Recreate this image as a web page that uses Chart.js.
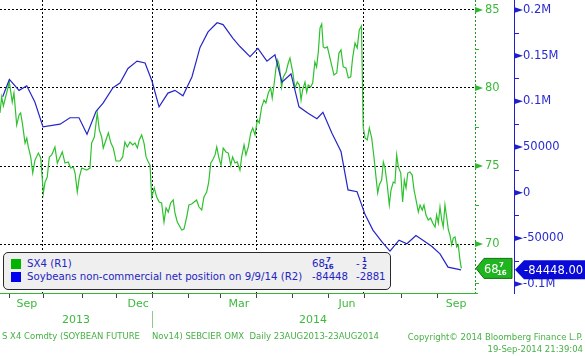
<!DOCTYPE html>
<html>
<head>
<meta charset="utf-8">
<script src="https://cdn.jsdelivr.net/npm/chart.js@4.4.1/dist/chart.umd.min.js"></script>
<style>
  html,body{margin:0;padding:0;background:#fff;overflow:hidden;}
  #wrap{position:relative;width:585px;height:356px;font-family:"DejaVu Sans",Verdana,sans-serif;}
  #c{position:absolute;left:0;top:0;}
  .t{position:absolute;white-space:pre;line-height:12px;}
  #legend{position:absolute;left:3px;top:252px;width:388px;height:38px;box-sizing:border-box;border:1px solid #2a2a2a;border-radius:5px;background:#efefef;}
  .lg{font-size:10.2px;color:#2424c4;}
  .sq{position:absolute;width:10px;height:10px;}
  .fr{font-size:7px;font-weight:bold;line-height:7px;}
  .ft{font-size:8.5px;color:#46b046;line-height:10px;}
  .yr{font-size:11px;color:#3cba3c;}
</style>
</head>
<body>
<div id="wrap">
  <canvas id="c" width="585" height="356"></canvas>
  <div id="legend"></div>
  <div class="sq" style="left:11px;top:259px;background:#00b400;"></div>
  <div class="sq" style="left:11px;top:272px;background:#0000f0;"></div>
  <div class="t lg" style="left:27px;top:258px;">SX4 (R1)</div>
  <div class="t lg" style="left:27px;top:271px;">Soybeans non-commercial net position on 9/9/14 (R2)</div>
  <div class="t lg" style="left:312px;top:258px;">68</div>
  <div class="t lg fr" style="left:326px;top:257px;">7</div>
  <div class="t lg fr" style="left:324px;top:264px;">16</div>
  <div class="t lg" style="left:356px;top:258px;">-</div>
  <div class="t lg fr" style="left:362px;top:257px;">1</div>
  <div class="t lg fr" style="left:362px;top:264px;">2</div>
  <div class="t lg" style="left:312px;top:271px;">-84448</div>
  <div class="t lg" style="left:356px;top:271px;">-2881</div>

  <div class="t yr" style="left:62px;top:314px;">2013</div>
  <div class="t yr" style="left:299px;top:314px;">2014</div>
  <div style="position:absolute;left:152px;top:311px;width:1px;height:17px;background:#8fc88f;"></div>

  <div class="t ft" style="left:2px;top:331px;">S X4 Comdty (SOYBEAN FUTURE</div>
  <div class="t ft" style="left:152px;top:331px;">Nov14) SEBCIER OMX  Daily 23AUG2013-23AUG2014</div>
  <div class="t ft" style="right:2px;top:332px;text-align:right;">Copyright© 2014 Bloomberg Finance L.P.</div>
  <div class="t ft" style="right:2px;top:343.5px;text-align:right;">19-Sep-2014 21:39:04</div>
</div>
<script>
// ---- data (x = trading-day index from 23 Aug 2013) ----
const sxDays = [0.8,1.8,2.8,6.3,8.0,9.0,10.6,12.0,12.9,13.9,15.5,16.5,17.4,18.8,20.0,21.3,23.3,24.7,26.2,27.2,28.5,29.7,31.1,33.0,34.4,36.0,37.3,38.9,40.8,42.2,43.8,44.8,46.1,47.3,48.7,51.6,53.5,54.5,56.1,57.8,59.0,60.4,61.3,62.9,64.3,65.8,67.2,68.8,71.1,72.7,74.0,75.4,77.0,78.6,79.9,81.3,82.4,83.8,85.2,86.4,87.7,88.7,89.7,91.2,92.6,94.1,95.5,96.9,98.1,99.4,100.8,102.3,103.3,104.7,106.3,107.3,108.6,110.2,111.5,113.1,114.5,116.0,117.4,119.0,120.3,121.9,123.1,124.3,125.4,126.8,127.8,129.1,130.3,131.6,133.2,134.6,136.0,137.1,138.5,139.8,141.4,142.4,143.8,144.9,146.3,147.7,148.9,150.2,151.6,152.7,154.1,155.5,156.6,158.0,159.4,160.3,161.5,162.5,163.5,164.4,165.8,166.8,168.4,169.7,170.7,172.3,173.6,175.0,176.2,177.2,178.1,179.5,180.5,181.4,182.8,184.0,185.3,186.3,187.3,188.3,189.3,190.2,191.2,192.6,193.7,195.1,196.5,198.1,199.4,200.6,201.9,203.5,204.9,206.3,207.4,208.8,210.1,211.3,212.6,213.6,214.7,216.0,217.2,218.6,219.9,221.1,222.1,223.0,224.4,225.4,226.4,227.7,228.9,229.9,231.2,232.2,233.2,234.2,235.6,236.7,237.7,238.7,239.7,241.0,242.3,243.4,244.9,245.9,246.9,248.2,249.2,250.4,251.7,253.1,254.3,255.7,256.6,257.6,258.6,259.6,260.5,261.5,262.5,263.5,264.4,265.4,266.4,267.4,268.4,269.3,270.3,271.1];
const sxClose = [78.40,79.42,78.85,80.38,79.10,79.68,77.63,78.27,78.40,77.76,76.47,76.79,76.22,75.58,74.55,75.38,75.83,75.51,73.27,73.97,74.29,75.58,75.71,76.22,75.19,75.58,75.90,75.19,75.26,74.87,74.94,74.55,73.33,74.29,74.87,74.74,74.87,76.47,76.86,78.40,77.31,76.86,76.15,76.67,77.12,76.47,76.15,75.32,75.32,75.58,76.54,76.22,76.54,76.35,76.47,76.15,76.67,76.99,76.47,75.58,75.26,75.06,73.01,73.59,73.01,72.69,72.63,71.41,72.31,72.05,72.63,72.82,71.99,71.41,71.09,70.90,70.96,71.73,72.50,72.56,72.69,72.82,72.37,72.18,73.01,73.33,73.97,75.19,75.38,75.71,76.22,75.51,75.06,76.15,75.90,75.83,75.06,75.58,75.19,75.26,74.74,75.58,76.35,75.71,76.22,77.12,77.44,76.99,77.95,77.76,78.78,79.23,79.04,79.68,80.00,79.36,80.32,81.28,81.79,81.47,80.06,80.71,81.03,81.60,81.92,81.03,80.00,80.38,80.19,79.23,79.87,80.38,79.74,80.19,80.06,80.32,81.67,81.35,82.31,83.85,84.10,82.63,82.56,82.63,82.12,81.47,80.83,80.96,82.24,82.44,81.35,81.28,80.64,80.71,81.92,82.88,82.56,83.72,83.97,77.50,76.79,76.67,77.44,76.79,75.58,74.29,73.27,73.78,74.10,75.26,74.87,73.78,72.50,73.46,73.97,73.91,75.71,74.94,74.55,72.69,74.10,73.59,74.55,74.62,74.42,73.46,72.63,72.05,72.50,72.18,72.50,71.86,71.54,71.67,71.35,71.09,71.86,71.35,72.37,71.54,71.09,72.50,71.73,70.90,70.58,69.94,70.38,70.45,69.81,69.94,68.97,68.4375];
const cotDays = [2.4,6.3,12.0,16.5,21.3,26.0,36.0,41.8,47.1,51.8,57.1,61.2,67.0,71.1,75.8,81.1,85.8,89.9,94.0,99.2,103.3,108.0,113.3,118.0,122.7,128.0,131.5,137.3,141.4,147.3,151.9,157.2,161.9,166.0,171.3,176.0,181.3,186.5,190.0,195.3,200.6,204.7,210.0,214.7,219.3,224.6,229.3,234.6,239.2,244.5,248.6,253.9,258.6,263.3,270.9];
const cotNet = [105000,124000,112000,117000,99000,72000,75000,82000,82000,64000,89000,98000,115000,120000,136000,144000,142000,122000,94000,109000,112000,106000,127000,159000,176000,186000,184000,169000,160000,149000,158000,144000,151000,121000,130000,94000,87000,81000,88000,65000,45000,3000,1000,-24000,-41000,-54000,-64000,-52000,-56000,-47000,-52000,-59000,-67000,-81567,-84448];
const greenTicks = [70,75,80,85];
const greenMinor = [67.5,72.5,77.5,82.5];
const blueTicks = [-100000,-50000,0,50000,100000,150000,200000];
const blueMinor = [-75000,-25000,25000,75000,125000,175000];
const quarterDays = [26,90,151,214];              // 1 Oct, 2 Jan, 1 Apr, 1 Jul
const monthStartDays = [6,26,49,69,90,111,130,151,172,193,214,236,257];
const monthLabels = ['Sep','Dec','Mar','Jun','Sep'];
const monthLabelDays = [16.6,81.7,140.8,204.1,268.0];

const FONT = '"DejaVu Sans", Verdana, sans-serif';
const GREEN = '#2ec12e', BLUE = '#2626c8';

const noPad = s => { s.paddingTop = 0; s.paddingBottom = 0; s.paddingLeft = 0; s.paddingRight = 0; };

const decor = {
  id:'decor',
  afterDraw(chart){
    const ctx = chart.ctx, a = chart.chartArea;
    const y1 = chart.scales.y1, y2 = chart.scales.y2, x = chart.scales.x;
    ctx.save();
    // green axis (dotted)
    ctx.strokeStyle = '#1f991f'; ctx.lineWidth = 1; ctx.setLineDash([2,2]);
    ctx.beginPath(); ctx.moveTo(a.right+0.5, a.top); ctx.lineTo(a.right+0.5, a.bottom); ctx.stroke();
    ctx.setLineDash([]);
    ctx.fillStyle = '#2cb82c'; ctx.strokeStyle = '#2cb82c';
    greenTicks.forEach(v=>{ const py = y1.getPixelForValue(v);
      ctx.beginPath(); ctx.moveTo(a.right, py-3); ctx.lineTo(a.right+8, py); ctx.lineTo(a.right, py+3); ctx.closePath(); ctx.fill(); });
    greenMinor.forEach(v=>{ const py = Math.round(y1.getPixelForValue(v))+0.5;
      ctx.beginPath(); ctx.moveTo(a.right, py); ctx.lineTo(a.right+4, py); ctx.stroke(); });
    // blue axis arrows / minor
    const bx = y2.left;
    ctx.fillStyle = '#1e1ecc'; ctx.strokeStyle = '#1e1ecc';
    blueTicks.forEach(v=>{ const py = y2.getPixelForValue(v);
      ctx.beginPath(); ctx.moveTo(bx, py-3); ctx.lineTo(bx+9, py); ctx.lineTo(bx, py+3); ctx.closePath(); ctx.fill(); });
    blueMinor.forEach(v=>{ const py = Math.round(y2.getPixelForValue(v))+0.5;
      ctx.beginPath(); ctx.moveTo(bx, py); ctx.lineTo(bx+5, py); ctx.stroke(); });
    // x axis line and month ticks
    ctx.strokeStyle = '#33b833'; ctx.lineWidth = 1;
    ctx.beginPath(); ctx.moveTo(0, a.bottom+0.5); ctx.lineTo(a.right+3, a.bottom+0.5); ctx.stroke();
    ctx.strokeStyle = '#444';
    monthStartDays.forEach(d=>{ const px = Math.round(x.getPixelForValue(d))+0.5;
      ctx.beginPath(); ctx.moveTo(px, a.bottom+1); ctx.lineTo(px, a.bottom+5); ctx.stroke(); });
    // last-value tags
    const gy = y1.getPixelForValue(sxClose[sxClose.length-1]);
    ctx.beginPath(); ctx.moveTo(a.right+1, gy); ctx.lineTo(a.right+9, gy-10); ctx.lineTo(y2.left-2, gy-10);
    ctx.lineTo(y2.left-2, gy+10); ctx.lineTo(a.right+9, gy+10); ctx.closePath();
    ctx.fillStyle = '#20b520'; ctx.fill(); ctx.strokeStyle = '#0f6f0f'; ctx.stroke();
    ctx.fillStyle = '#fff'; ctx.textBaseline = 'alphabetic'; ctx.textAlign = 'left';
    ctx.font = '11.5px ' + FONT; ctx.fillText('68', a.right+9, gy+4.5);
    ctx.font = 'bold 7px ' + FONT; ctx.fillText('7', a.right+24, gy-1.5); ctx.fillText('16', a.right+22, gy+6.5);
    const by = y2.getPixelForValue(cotNet[cotNet.length-1]);
    ctx.beginPath(); ctx.moveTo(bx+1, by); ctx.lineTo(bx+10, by-9.5); ctx.lineTo(585, by-9.5);
    ctx.lineTo(585, by+9.5); ctx.lineTo(bx+10, by+9.5); ctx.closePath();
    ctx.fillStyle = '#0a0ad8'; ctx.fill();
    ctx.fillStyle = '#fff'; ctx.font = '11.5px ' + FONT; ctx.fillText('-84448.00', bx+10, by+4.5);
    ctx.restore();
  }
};

const blueFmt = v => v === 0 ? '0' : (Math.abs(v) >= 100000 ? (v/1e6) + 'M' : String(v));

new Chart(document.getElementById('c'), {
  type:'line',
  data:{ datasets:[
    { label:'SX4 (R1)', data: sxDays.map((d,i)=>({x:d, y:sxClose[i]})), yAxisID:'y1',
      borderColor:GREEN, borderWidth:1.2, pointRadius:0, tension:0, fill:false, order:2 },
    { label:'Soybeans non-commercial net position on 9/9/14 (R2)', data: cotDays.map((d,i)=>({x:d, y:cotNet[i]})), yAxisID:'y2',
      borderColor:BLUE, borderWidth:1.2, pointRadius:0, tension:0, fill:false, order:1 }
  ]},
  options:{
    responsive:false, animation:false, devicePixelRatio:1,
    layout:{padding:0},
    plugins:{ legend:{display:false}, tooltip:{enabled:false} },
    scales:{
      x:{ type:'linear', position:'bottom', min:0.82, max:279.1,
        afterBuildTicks: s => { s.ticks = quarterDays.concat(monthLabelDays).sort((p,q)=>p-q).map(v=>({value:v})); },
        afterFit: s => { s.height = 63; noPad(s); },
        grid:{ color: c => (c.tick && quarterDays.includes(c.tick.value)) ? '#000' : 'rgba(0,0,0,0)', lineWidth:1, drawTicks:false },
        border:{ display:false, dash:[2,2] },
        ticks:{ autoSkip:false, maxRotation:0, padding:5, color:'#3cba3c', font:{family:FONT, size:11},
          callback: v => { const i = monthLabelDays.indexOf(v); return i >= 0 ? monthLabels[i] : ''; } }
      },
      y1:{ type:'linear', position:'right', weight:0, min:66.86, max:85.64,
        afterBuildTicks: s => { s.ticks = greenTicks.map(v=>({value:v})); },
        afterFit: s => { s.width = 39; noPad(s); },
        grid:{ color:'#000', lineWidth:1, drawTicks:false },
        border:{ display:false, dash:[2,2] },
        ticks:{ padding:10, color:'#3cba3c', font:{family:FONT, size:11.5}, autoSkip:false }
      },
      y2:{ type:'linear', position:'right', weight:1, min:-109860, max:210950,
        afterBuildTicks: s => { s.ticks = blueTicks.map(v=>({value:v})); },
        afterFit: s => { s.width = 71; noPad(s); },
        grid:{ drawOnChartArea:false, drawTicks:false },
        border:{ display:true, color:'#1e1ecc', width:1 },
        ticks:{ padding:9, color:'#2a2ad0', font:{family:FONT, size:11.5}, autoSkip:false, callback: blueFmt }
      }
    }
  },
  plugins:[decor]
});
</script>
</body>
</html>
